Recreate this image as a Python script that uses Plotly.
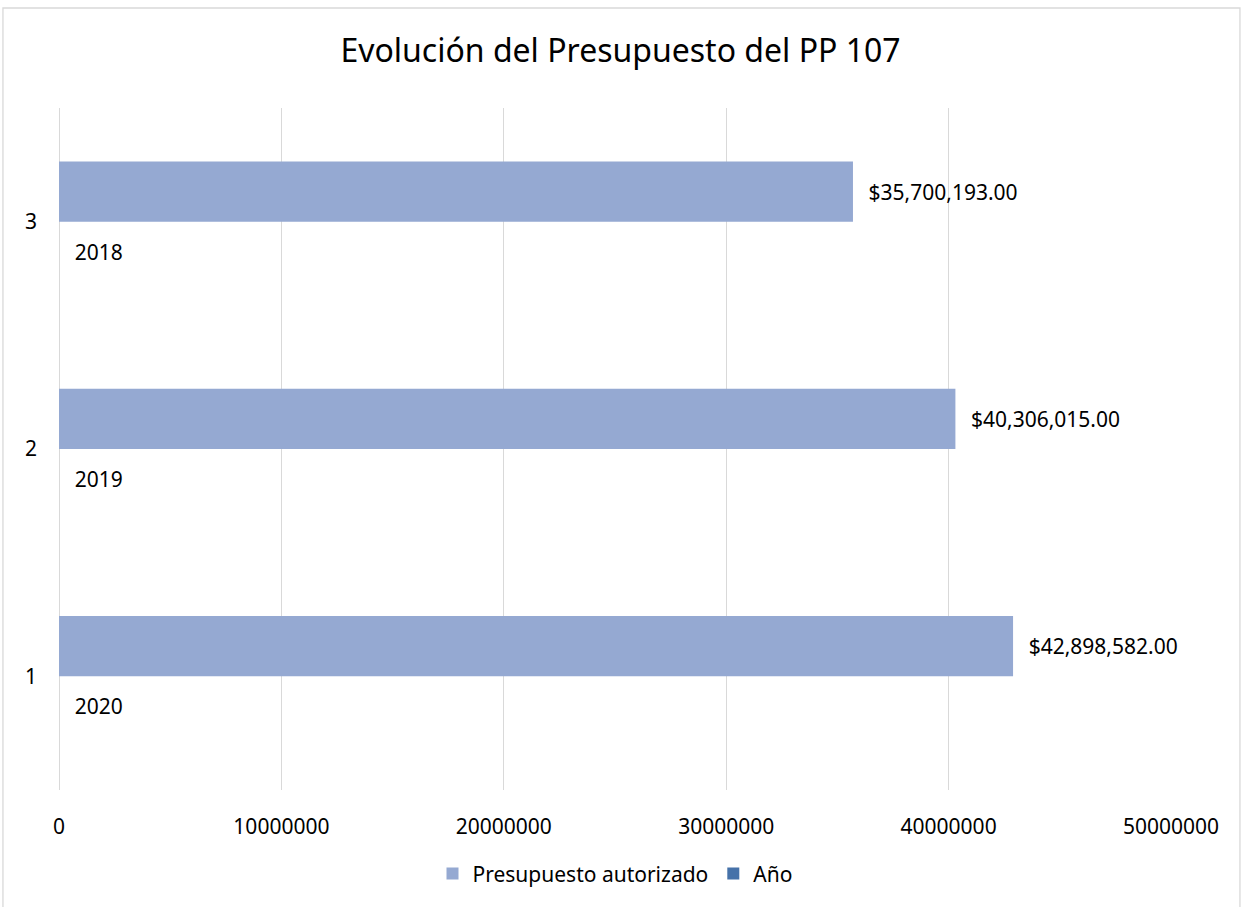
import plotly.graph_objects as go

categories = ["1", "2", "3"]
presupuesto = [42898582.00, 40306015.00, 35700193.00]
anio = [2020, 2019, 2018]
x_ticks = [0, 10000000, 20000000, 30000000, 40000000, 50000000]

FONT = "Noto Sans"
FS = 21
PRES_COLOR = "#95A9D2"
ANIO_COLOR = "#4672A9"
GRID = "#D9D9D9"
pres_labels = ["\u2002\u200a${:,.2f}".format(v) for v in presupuesto]
anio_labels = ["\u2002\u200a{}".format(v) for v in anio]

fig = go.Figure()
# Año bars (values are tiny relative to the axis, so effectively invisible)
fig.add_trace(go.Bar(
    y=categories, x=anio, orientation="h", name="Año", showlegend=False,
    marker=dict(color="rgba(0,0,0,0)", line=dict(width=0)),
    text=anio_labels, textposition="outside", cliponaxis=False,
    textfont=dict(family=FONT, size=FS, color="#000000"),
    hoverinfo="x+y",
))
fig.add_trace(go.Bar(
    y=categories, x=presupuesto, orientation="h", name="Presupuesto autorizado",
    marker=dict(color=PRES_COLOR, line=dict(width=0)),
    text=pres_labels, textposition="outside", cliponaxis=False,
    textfont=dict(family=FONT, size=FS, color="#000000"),
    hoverinfo="x+y", legendrank=1,
))
# legend entry for Año (drawn on a hidden overlay axis so it doesn't affect grouping)
fig.add_trace(go.Bar(
    y=[categories[0]], x=[0], orientation="h", name="Año",
    marker=dict(color=ANIO_COLOR, line=dict(width=0)),
    xaxis="x2", yaxis="y2", hoverinfo="skip", legendrank=2,
))

fig.update_layout(
    width=1241, height=907,
    paper_bgcolor="white", plot_bgcolor="white",
    barmode="group", bargap=0.47, bargroupgap=0,
    margin=dict(l=59, r=70, t=108, b=117, autoexpand=False),
    title=dict(text="Evolución del Presupuesto del PP 107",
               font=dict(family=FONT, size=32, color="#000000"),
               x=0.5, xanchor="center", y=0.944, yanchor="middle"),
    font=dict(family=FONT, size=FS, color="#000000"),
    xaxis=dict(range=[0, 50000000], tickvals=x_ticks,
               ticktext=[str(v) for v in x_ticks],
               showgrid=True, gridcolor=GRID, gridwidth=1.3,
               zeroline=True, zerolinecolor=GRID, zerolinewidth=1.3,
               showline=False, ticks="",
               ticklabelstandoff=22, automargin=False,
               tickfont=dict(family=FONT, size=FS, color="#000000")),
    yaxis=dict(type="category", categoryorder="array", categoryarray=categories,
               showgrid=False, zeroline=False, showline=False, ticks="",
               ticklabelstandoff=21, automargin=False,
               tickfont=dict(family=FONT, size=FS, color="#000000")),
    xaxis2=dict(overlaying="x", range=[0, 1], visible=False),
    yaxis2=dict(overlaying="y", range=[0, 1], visible=False),
    legend=dict(orientation="h", x=0.5, xanchor="center", y=-0.123, yanchor="middle",
                font=dict(family=FONT, size=FS, color="#000000"),
                itemwidth=30),
    showlegend=True,
    shapes=[dict(type="rect", xref="paper", yref="paper",
                 x0=-0.0504, x1=1.062, y0=-0.175, y1=1.1466,
                 line=dict(color=GRID, width=1.3), fillcolor="rgba(0,0,0,0)",
                 layer="below")],
)

fig.write_html("out.html", config={"displayModeBar": False},
               post_script="document.body.style.margin='0';")
